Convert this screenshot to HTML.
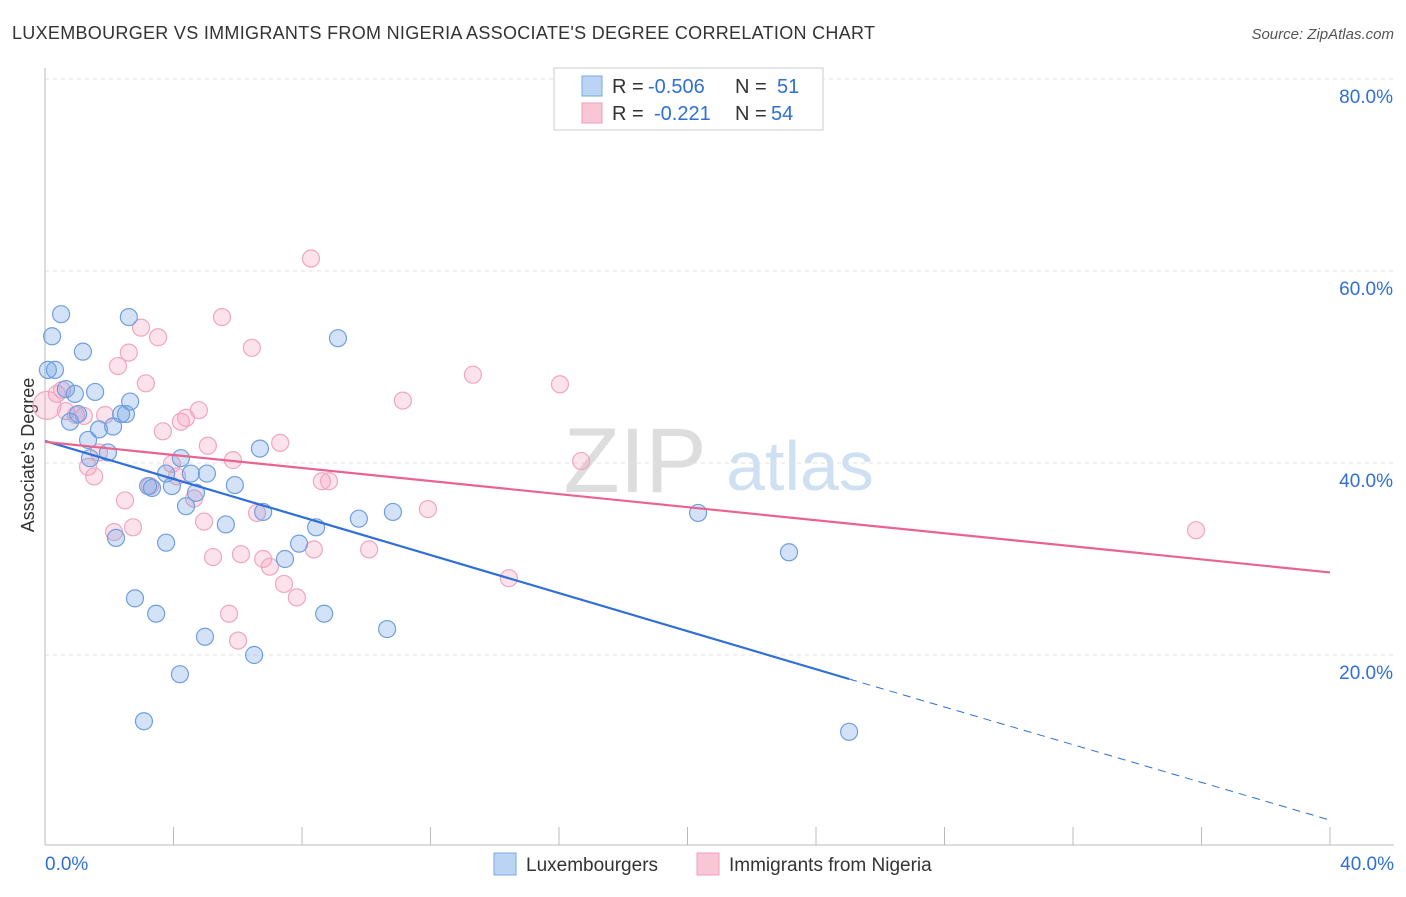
<!DOCTYPE html>
<html><head><meta charset="utf-8"><style>
body{margin:0;background:#fff;font-family:"Liberation Sans",sans-serif}
svg text{font-family:"Liberation Sans",sans-serif}
</style></head><body>
<svg id="c" width="1406" height="892">
<text x="12" y="39" font-size="18" fill="#333" textLength="863">LUXEMBOURGER VS IMMIGRANTS FROM NIGERIA ASSOCIATE'S DEGREE CORRELATION CHART</text>
<text x="1394" y="39" font-size="15" fill="#555" text-anchor="end" font-style="italic">Source: ZipAtlas.com</text>
<text x="34" y="455" font-size="18" fill="#333" text-anchor="middle" transform="rotate(-90 34 455)">Associate's Degree</text>
<g><text x="635" y="492" font-size="92" fill="#ddd" text-anchor="middle" font-family="Liberation Serif">ZIP</text><text x="800" y="490" font-size="70" fill="#cfe0f3" text-anchor="middle">atlas</text></g>
<g id="grid"></g><g id="marks"></g>
<g>
<rect x="554" y="68" width="269" height="62" fill="#fff" stroke="#ccc"/>
<rect x="582" y="76" width="20" height="20" fill="#bcd4f3" stroke="#7aa7e2"/>
<rect x="582" y="103" width="20" height="20" fill="#f9c6d6" stroke="#ef9fba"/>
<text x="612" y="93" font-size="20" fill="#333">R =</text>
<text x="648" y="93" font-size="20" fill="#2f6fd6">-0.506</text>
<text x="735" y="93" font-size="20" fill="#333">N =</text>
<text x="777" y="93" font-size="20" fill="#2f6fd6">51</text>
<text x="612" y="120" font-size="20" fill="#333">R =</text>
<text x="654" y="120" font-size="20" fill="#2f6fd6">-0.221</text>
<text x="735" y="120" font-size="20" fill="#333">N =</text>
<text x="771" y="120" font-size="20" fill="#2f6fd6">54</text>
</g>
<g>
<rect x="494" y="853" width="22" height="22" fill="#bcd4f3" stroke="#7aa7e2"/>
<text x="526" y="871" font-size="19" fill="#333">Luxembourgers</text>
<rect x="697" y="853" width="22" height="22" fill="#f9c6d6" stroke="#ef9fba"/>
<text x="729" y="871" font-size="19" fill="#333">Immigrants from Nigeria</text>
</g>
</svg>
<script>
const blueX=[0.50,0.22,2.61,9.12,1.18,0.31,0.09,1.56,0.93,0.65,2.65,2.37,2.52,1.03,0.78,2.12,1.68,1.34,6.69,1.96,1.40,4.23,5.04,4.54,3.77,5.91,3.21,3.95,3.33,4.70,4.39,6.79,5.63,8.44,9.77,10.83,20.33,2.21,3.77,7.91,7.47,23.16,2.80,3.46,8.69,10.65,4.98,6.51,4.20,3.08,25.03];
const blueY=[55.5,53.2,55.2,53.0,51.6,49.7,49.7,47.4,47.2,47.7,46.4,45.1,45.1,45.1,44.3,43.8,43.5,42.4,41.5,41.1,40.5,40.5,38.9,38.9,38.9,37.7,37.6,37.6,37.4,36.9,35.5,34.9,33.6,33.3,34.2,34.9,34.8,32.2,31.7,31.6,30.0,30.7,25.9,24.3,24.3,22.7,21.9,20.0,18.0,13.1,12.0];
const pinkX=[8.28,5.51,2.99,3.52,6.44,2.61,2.27,3.14,13.32,16.03,0.53,0.37,0.06,11.14,4.79,4.39,0.65,0.96,1.21,1.87,4.23,3.67,5.07,7.32,1.68,5.85,16.69,3.95,1.34,1.53,4.11,3.27,8.62,8.84,4.64,2.49,11.92,6.60,4.95,2.74,2.15,35.83,6.10,5.23,10.09,8.37,6.79,7.00,7.44,7.84,14.44,5.73,6.01];
const pinkY=[61.3,55.2,54.1,53.1,52.0,51.5,50.1,48.3,49.2,48.2,47.6,47.2,46.0,46.5,45.5,44.7,45.4,45.0,44.9,45.0,44.3,43.3,41.8,42.1,41.1,40.3,40.2,39.9,39.6,38.6,38.6,37.6,38.1,38.1,36.3,36.1,35.2,34.8,33.9,33.3,32.8,33.0,30.5,30.2,31.0,31.0,30.0,29.2,27.4,26.0,28.0,24.3,21.5];
const blueTrend=[42.3,17.5,2.8];
const blueTrendX=[0,25.03,40];
const pinkTrend=[42.2,28.6];
const yTicks=[20,40,60,80];
const xTickCount=[0,4,8,12,16,20,24,28,32,36,40];
const NS='http://www.w3.org/2000/svg';
const sx=v=>45+v/40*1285, sy=v=>847-v*9.6;
function mk(t,a,p){const e=document.createElementNS(NS,t);for(const k in a)e.setAttribute(k,a[k]);p.appendChild(e);return e;}
const g=document.getElementById('grid'),m=document.getElementById('marks');
yTicks.forEach(v=>{
 const l=mk('line',{x1:45,x2:1394,y1:sy(v),y2:sy(v),stroke:'#e2e2e2','stroke-dasharray':'4,4'},g);
 
 
 const t=mk('text',{x:1393,y:sy(v)+24,'font-size':19,fill:'#2f6fd6','text-anchor':'end'},g);t.textContent=v.toFixed(1)+'%';
 
 
});
mk('line',{x1:45,x2:45,y1:68,y2:845,stroke:'#bbb'},g);
mk('line',{x1:45,x2:1394,y1:845,y2:845,stroke:'#bbb'},g);
xTickCount.forEach(v=>{const l=mk('line',{x1:sx(v),x2:sx(v),y1:827,y2:845,stroke:'#bbb'},g);
 
 });
[[0,'start',45],[40,'end',1394]].forEach(([v,a,x])=>{const t=mk('text',{x:x,y:870,'font-size':19,fill:'#2f6fd6','text-anchor':a},g);t.textContent=v.toFixed(1)+'%';
 
 });
function pts(X,Y,f,s,name){X.forEach((x,i)=>{const c=mk('circle',{cx:sx(x),cy:sy(Y[i]),r:(name==='pink-point'&&x<0.1)?14:8.5,fill:f,stroke:s,'stroke-width':1.2},m);
 
 });}
pts(pinkX,pinkY,'rgba(244,160,190,0.3)','#f0a6c0','pink-point');
pts(blueX,blueY,'rgba(110,160,230,0.3)','#6f9fe0','blue-point');
const bl=mk('line',{x1:sx(blueTrendX[0]),y1:sy(blueTrend[0]),x2:sx(blueTrendX[1]),y2:sy(blueTrend[1]),stroke:'#2f6fd6','stroke-width':2.2},m);


const bd=mk('line',{x1:sx(blueTrendX[1]),y1:sy(blueTrend[1]),x2:sx(blueTrendX[2]),y2:sy(blueTrend[2]),stroke:'#2f6fd6','stroke-width':1,'stroke-dasharray':'8,6'},m);


const pl=mk('line',{x1:sx(0),y1:sy(pinkTrend[0]),x2:sx(40),y2:sy(pinkTrend[1]),stroke:'#e8648f','stroke-width':2.2},m);


</script>
</body></html>
